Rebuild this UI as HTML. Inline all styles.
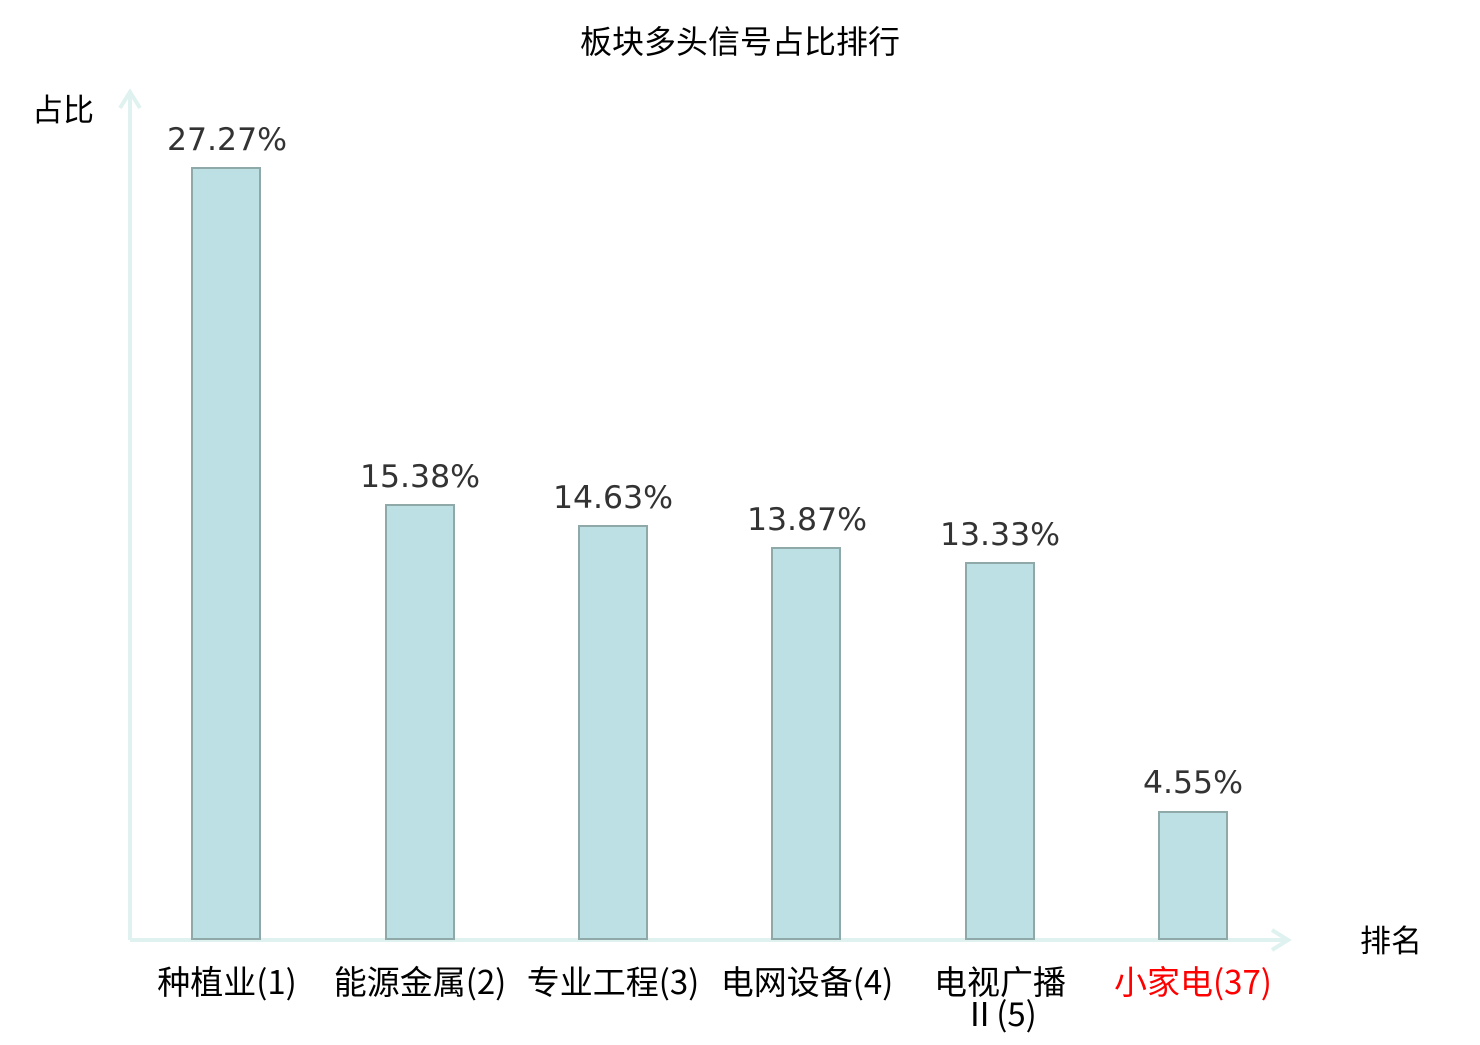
<!DOCTYPE html>
<html><head><meta charset="utf-8"><style>body{margin:0;background:#fff}</style></head><body>
<svg width="1480" height="1040" xmlns="http://www.w3.org/2000/svg" font-family="'Noto Sans CJK SC',sans-serif">
<text x="740" y="53" font-size="32" text-anchor="middle" fill="#000">板块多头信号占比排行</text>
<text x="63" y="121" font-size="31" text-anchor="middle" fill="#000">占比</text>
<text x="1391" y="952" font-size="31" text-anchor="middle" fill="#000">排名</text>
<g stroke="#dff2ef" stroke-width="4" fill="none">
<line x1="130" y1="92" x2="130" y2="940"/>
<line x1="130" y1="940" x2="1288" y2="940"/>
<polyline points="120,108 130,92 140,108"/>
<polyline points="1272,930 1288,940 1272,950"/>
</g>
<g fill="#bce0e3" stroke="#8fa9a9" stroke-width="2">
<rect x="192" y="168" width="68" height="771"/>
<rect x="386" y="505" width="68" height="434"/>
<rect x="579" y="526" width="68" height="413"/>
<rect x="772" y="548" width="68" height="391"/>
<rect x="966" y="563" width="68" height="376"/>
<rect x="1159" y="812" width="68" height="127"/>
</g>
<g font-size="31.5" fill="#333" text-anchor="middle" font-family="'DejaVu Sans',sans-serif">
<text x="227" y="150">27.27%</text>
<text x="420" y="487">15.38%</text>
<text x="613" y="508">14.63%</text>
<text x="807" y="530">13.87%</text>
<text x="1000" y="545">13.33%</text>
<text x="1193" y="793">4.55%</text>
</g>
<g font-size="33" fill="#000" text-anchor="middle">
<text x="227" y="994">种植业(1)</text>
<text x="420" y="994">能源金属(2)</text>
<text x="613" y="994">专业工程(3)</text>
<text x="807" y="994">电网设备(4)</text>
<text x="1000" y="994">电视广播</text>
<text x="1000" y="1026">Ⅱ(5)</text>
<text x="1193" y="994" fill="#ff0000">小家电(37)</text>
</g>
</svg>
</body></html>
